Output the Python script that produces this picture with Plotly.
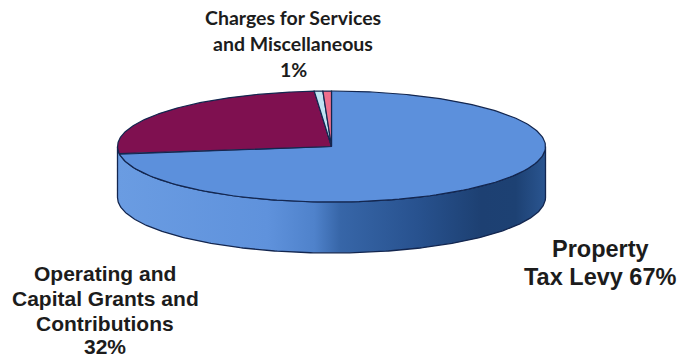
import numpy as np
import plotly.graph_objects as go

# Revenue shares, in the order they run clockwise from twelve o'clock
categories = ["Property Tax Levy", "Operating and Capital Grants and Contributions",
              "Charges for Services", "Miscellaneous"]
shares = [67, 32, 1, 1]
slice_colors = ["#5c90dc", "#7f1050", "#bfe4f3", "#ee6f8c"]

W, H = 679, 360
CX, CY = 331.5, 146.5      # centre of the disc, in pixels
RX, RY = 214.0, 55.5       # radii of the tilted top face
DEPTH = 51.0               # thickness of the disc
TILT_WARP = 0.648          # the far side of a tilted disc takes less of the rim
EDGE = "#13264f"


def rim_angle(theta):
    """Rim position for a true pie angle, both in radians clockwise from the top."""
    return 2 * np.arctan2(TILT_WARP * np.sin(theta / 2), np.cos(theta / 2))


def rim_xy(t, drop=0.0):
    """Point on the rim in axis units (one unit is the horizontal radius)."""
    return np.sin(t), (RY * np.cos(t) - drop) / RX


fig = go.Figure()

# Side wall: front half of the rim, dropped by the thickness of the disc
front = np.linspace(np.pi / 2, 3 * np.pi / 2, 240)
x_top, y_top = rim_xy(front)
x_low, y_low = rim_xy(front[::-1], DEPTH)
fig.add_trace(go.Scatter(
    x=np.concatenate([x_top, x_low, x_top[:1]]),
    y=np.concatenate([y_top, y_low, y_top[:1]]),
    mode="lines", fill="toself",
    fillgradient=dict(
        type="horizontal",
        colorscale=[[0.0, "#6a9ce2"], [0.35, "#5f92dc"], [0.46, "#4f82cb"], [0.52, "#3766a8"],
                    [0.70, "#28528f"], [0.85, "#1d4072"], [0.93, "#1d4173"], [1.0, "#2a5590"]],
    ),
    line=dict(color=EDGE, width=1.3),
    hoverinfo="skip", showlegend=False,
))

# Top face: one wedge per category, swept from the shares
bounds = np.concatenate([[0], np.cumsum(shares)]) / np.sum(shares) * 2 * np.pi
for name, start, stop, color in zip(categories, bounds[:-1], bounds[1:], slice_colors):
    t = rim_angle(np.linspace(start, stop, 200))
    xs, ys = rim_xy(t)
    fig.add_trace(go.Scatter(
        x=np.concatenate([[0], xs, [0]]),
        y=np.concatenate([[0], ys, [0]]),
        mode="lines", fill="toself", fillcolor=color,
        line=dict(color=EDGE, width=1.2),
        name=name, hoverinfo="name", showlegend=False,
    ))

# Labels, placed line by line
ARIAL = "Liberation Sans"
LATO = "Lato"
label_lines = [
    ("Charges for Services", 293, 17, LATO, 19.5),
    ("and Miscellaneous", 293, 43, LATO, 19.5),
    ("1%", 293, 69, LATO, 19.5),
    ("Operating and", 105, 273, ARIAL, 21),
    ("Capital Grants and", 105, 298, ARIAL, 21),
    ("Contributions", 105, 323, ARIAL, 21),
    ("32%", 105, 346, ARIAL, 21),
    ("Property", 600, 249, ARIAL, 23.5),
    ("Tax Levy 67%", 600, 277, ARIAL, 23.5),
]
for text, px, py, family, size in label_lines:
    fig.add_annotation(
        text=f"<b>{text}</b>", xref="paper", yref="paper",
        x=px / W, y=1 - py / H, xanchor="center", yanchor="middle",
        showarrow=False, font=dict(family=family, size=size, color="#1c1c1c"),
    )

fig.update_xaxes(visible=False, range=[-CX / RX, (W - CX) / RX], fixedrange=True)
fig.update_yaxes(visible=False, range=[(CY - H) / RX, CY / RX], fixedrange=True)
fig.update_layout(
    width=W, height=H, margin=dict(l=0, r=0, t=0, b=0),
    paper_bgcolor="white", plot_bgcolor="white",
)
fig.write_html("out.html", config={"displayModeBar": False})
